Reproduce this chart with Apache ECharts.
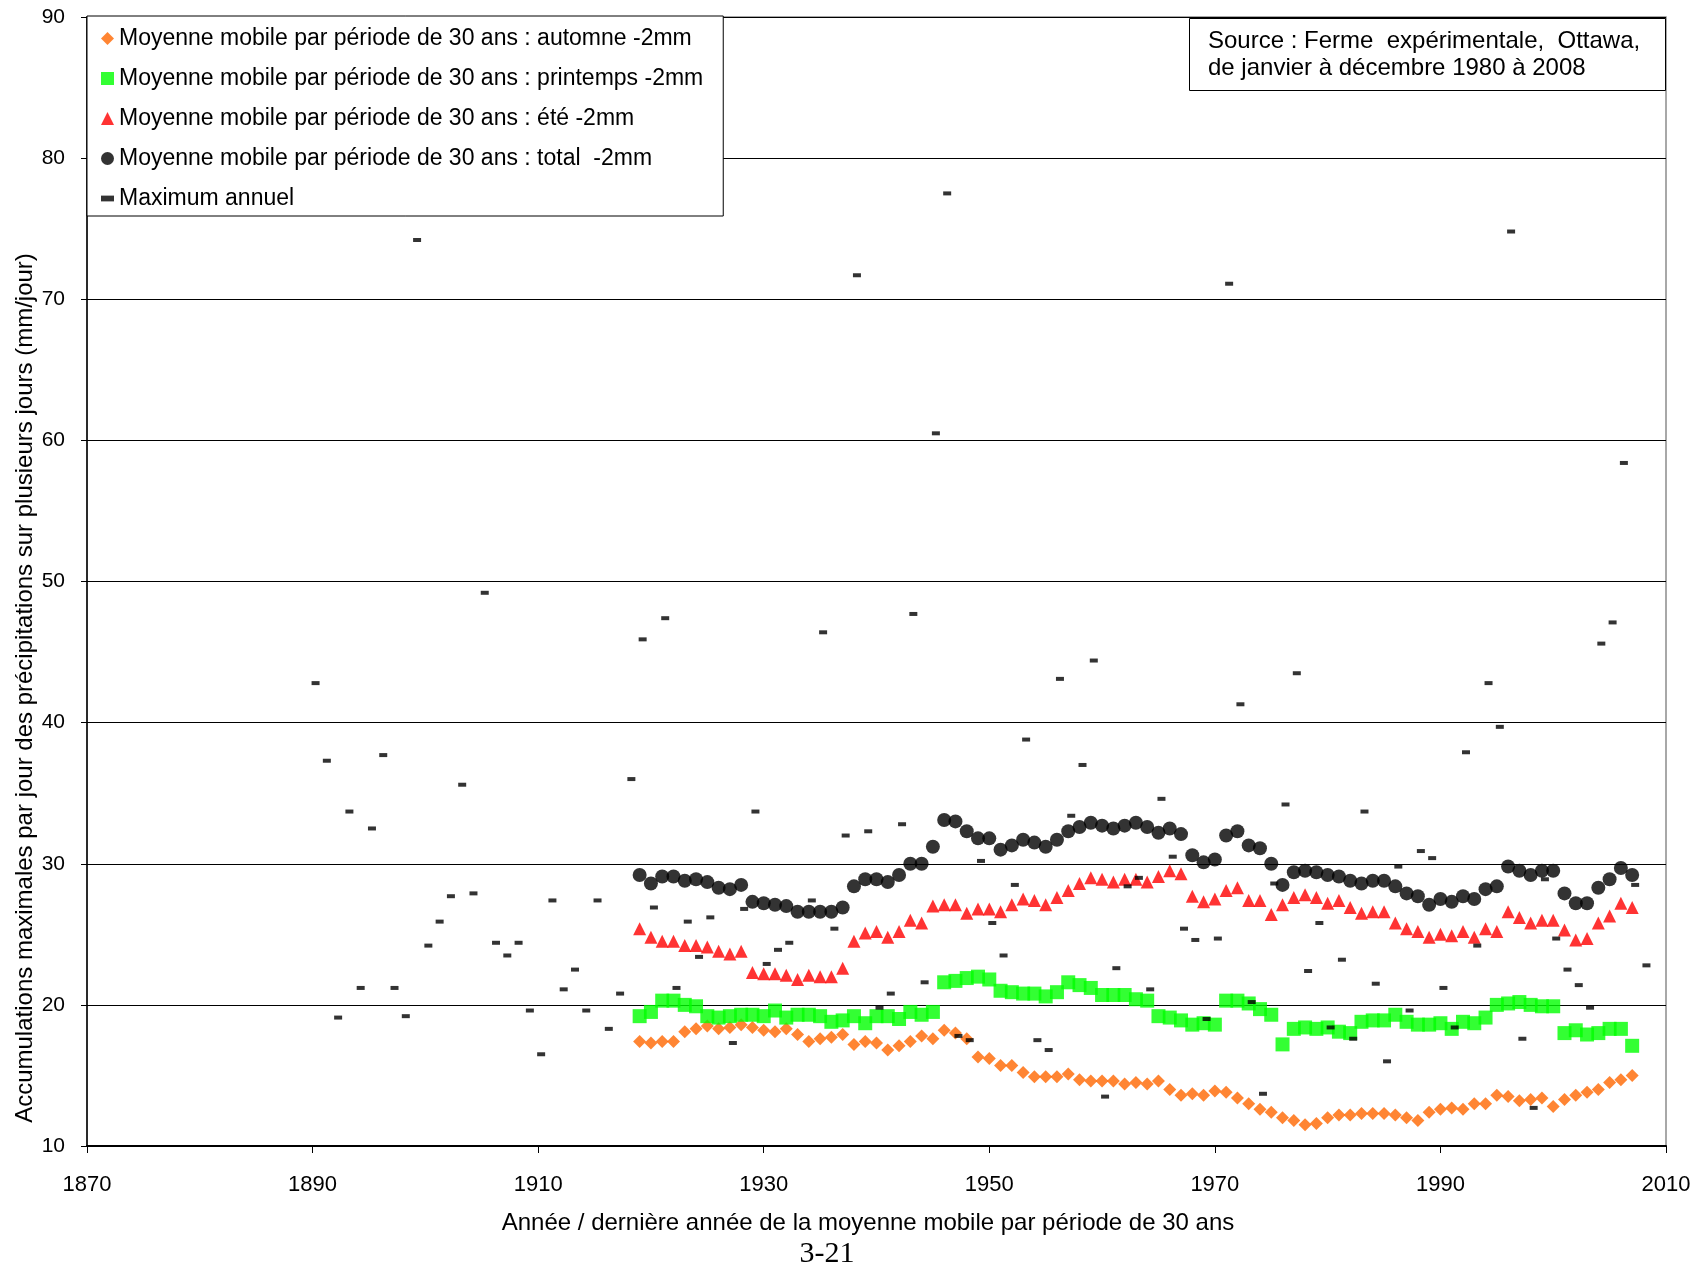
<!DOCTYPE html>
<html>
<head>
<meta charset="utf-8">
<script src="https://cdn.jsdelivr.net/npm/echarts@6/dist/echarts.min.js"></script>
<style>
  html, body { margin: 0; padding: 0; background: #fff; }
  #chart { width: 1701px; height: 1265px; }
</style>
</head>
<body>
<div id="chart"></div>
<script>
// Last year of each 30-year moving-average window
const maYears = [
  1919, 1920, 1921, 1922, 1923, 1924, 1925, 1926, 1927, 1928, 1929,
  1930, 1931, 1932, 1933, 1934, 1935, 1936, 1937, 1938, 1939,
  1940, 1941, 1942, 1943, 1944, 1945, 1946, 1947, 1948, 1949,
  1950, 1951, 1952, 1953, 1954, 1955, 1956, 1957, 1958, 1959,
  1960, 1961, 1962, 1963, 1964, 1965, 1966, 1967, 1968, 1969,
  1970, 1971, 1972, 1973, 1974, 1975, 1976, 1977, 1978, 1979,
  1980, 1981, 1982, 1983, 1984, 1985, 1986, 1987, 1988, 1989,
  1990, 1991, 1992, 1993, 1994, 1995, 1996, 1997, 1998, 1999,
  2000, 2001, 2002, 2003, 2004, 2005, 2006, 2007
];

// 30-year moving averages (mm/day), autumn
const autumn = [
  17.4, 17.3, 17.4, 17.4, 18.1, 18.3, 18.5, 18.3, 18.4, 18.6, 18.4,
  18.2, 18.1, 18.3, 17.9, 17.4, 17.6, 17.7, 17.9, 17.2, 17.4,
  17.3, 16.8, 17.1, 17.4, 17.8, 17.6, 18.2, 18.0, 17.6, 16.3,
  16.2, 15.7, 15.7, 15.2, 14.9, 14.9, 14.9, 15.1, 14.7, 14.6,
  14.6, 14.6, 14.4, 14.5, 14.4, 14.6, 14.0, 13.6, 13.7, 13.6,
  13.9, 13.8, 13.4, 13.0, 12.6, 12.4, 12.0, 11.8, 11.5, 11.6,
  12.0, 12.2, 12.2, 12.3, 12.3, 12.3, 12.2, 12.0, 11.8, 12.4,
  12.6, 12.7, 12.6, 13.0, 13.0, 13.6, 13.5, 13.2, 13.3, 13.4,
  12.8, 13.3, 13.6, 13.8, 14.0, 14.5, 14.7, 15.0
];

// 30-year moving averages (mm/day), spring
const spring = [
  19.2, 19.5, 20.3, 20.3, 20.0, 19.9, 19.2, 19.1, 19.2, 19.3, 19.3,
  19.2, 19.6, 19.1, 19.3, 19.3, 19.2, 18.8, 18.9, 19.2, 18.7,
  19.2, 19.2, 19.0, 19.5, 19.3, 19.5, 21.6, 21.7, 21.9, 22.0,
  21.8, 21.0, 20.9, 20.8, 20.8, 20.6, 20.9, 21.6, 21.4, 21.2,
  20.7, 20.7, 20.7, 20.4, 20.3, 19.2, 19.1, 18.9, 18.6, 18.7,
  18.6, 20.3, 20.3, 20.1, 19.7, 19.3, 17.2, 18.3, 18.4, 18.3,
  18.4, 18.1, 18.0, 18.8, 18.9, 18.9, 19.3, 18.8, 18.6, 18.6,
  18.7, 18.3, 18.8, 18.7, 19.1, 20.0, 20.1, 20.2, 20.0, 19.9,
  19.9, 18.0, 18.2, 17.9, 18.0, 18.3, 18.3, 17.1
];

// 30-year moving averages (mm/day), summer
const summer = [
  25.4, 24.8, 24.5, 24.5, 24.2, 24.2, 24.1, 23.8, 23.6, 23.8, 22.3,
  22.2, 22.2, 22.1, 21.8, 22.1, 22.0, 22.0, 22.6, 24.5, 25.1,
  25.2, 24.8, 25.2, 26.0, 25.8, 27.0, 27.1, 27.1, 26.5, 26.8,
  26.8, 26.6, 27.1, 27.5, 27.4, 27.1, 27.6, 28.1, 28.6, 29.0,
  28.9, 28.7, 28.9, 28.9, 28.7, 29.1, 29.5, 29.3, 27.7, 27.3,
  27.5, 28.1, 28.3, 27.4, 27.4, 26.4, 27.1, 27.6, 27.8, 27.6,
  27.2, 27.4, 26.9, 26.5, 26.6, 26.6, 25.8, 25.4, 25.2, 24.8,
  25.0, 24.9, 25.2, 24.8, 25.4, 25.2, 26.6, 26.2, 25.8, 26.0,
  26.0, 25.3, 24.6, 24.7, 25.8, 26.3, 27.2, 26.9
];

// 30-year moving averages (mm/day), whole year
const total = [
  29.2, 28.6, 29.1, 29.1, 28.8, 28.9, 28.7, 28.3, 28.2, 28.5, 27.3,
  27.2, 27.1, 27.0, 26.6, 26.6, 26.6, 26.6, 26.9, 28.4, 28.9,
  28.9, 28.7, 29.2, 30.0, 30.0, 31.2, 33.1, 33.0, 32.3, 31.8,
  31.8, 31.0, 31.3, 31.7, 31.5, 31.2, 31.7, 32.3, 32.6, 32.9,
  32.7, 32.5, 32.7, 32.9, 32.6, 32.2, 32.5, 32.1, 30.6, 30.1,
  30.3, 32.0, 32.3, 31.3, 31.1, 30.0, 28.5, 29.4, 29.5, 29.4,
  29.2, 29.1, 28.8, 28.6, 28.8, 28.8, 28.4, 27.9, 27.7, 27.1,
  27.5, 27.3, 27.7, 27.5, 28.2, 28.4, 29.8, 29.5, 29.2, 29.5,
  29.5, 27.9, 27.2, 27.2, 28.3, 28.9, 29.7, 29.2
];

// Annual maximum multi-day accumulation (mm/day)
const maxYears = [
  1890, 1891, 1892, 1893, 1894, 1895, 1896, 1897, 1898, 1899,
  1900, 1901, 1902, 1903, 1904, 1905, 1906, 1907, 1908, 1909,
  1910, 1911, 1912, 1913, 1914, 1915, 1916, 1917, 1918, 1919,
  1920, 1921, 1922, 1923, 1924, 1925, 1927, 1928, 1929,
  1930, 1931, 1932, 1934, 1935, 1936, 1937, 1938, 1939,
  1940, 1941, 1942, 1943, 1944, 1945, 1946, 1947, 1948, 1949,
  1950, 1951, 1952, 1953, 1954, 1955, 1956, 1957, 1958, 1959,
  1960, 1961, 1962, 1963, 1964, 1965, 1966, 1967, 1968, 1969,
  1970, 1971, 1972, 1973, 1974, 1975, 1976, 1977, 1978, 1979,
  1980, 1981, 1982, 1983, 1984, 1985, 1986, 1987, 1988, 1989,
  1990, 1991, 1992, 1993, 1994, 1995, 1996, 1997, 1998, 1999,
  2000, 2001, 2002, 2003, 2004, 2005, 2006, 2007, 2008
];
const maxValues = [
  42.8, 37.3, 19.1, 33.7, 21.2, 32.5, 37.7, 21.2, 19.2, 74.2,
  24.2, 25.9, 27.7, 35.6, 27.9, 49.2, 24.4, 23.5, 24.4, 19.6,
  16.5, 27.4, 21.1, 22.5, 19.6, 27.4, 18.3, 20.8, 36.0, 45.9,
  26.9, 47.4, 21.2, 25.9, 23.4, 26.2, 17.3, 26.8, 33.7,
  22.9, 23.9, 24.4, 27.4, 46.4, 25.4, 32.0, 71.7, 32.3,
  19.8, 20.8, 32.8, 47.7, 21.6, 60.5, 77.5, 17.8, 17.5, 30.2,
  25.8, 23.5, 28.5, 38.8, 17.5, 16.8, 43.1, 33.4, 37.0, 44.4,
  13.5, 22.6, 28.4, 29.0, 21.1, 34.6, 30.5, 25.4, 24.6, 19.0,
  24.7, 71.1, 41.3, 20.2, 13.7, 28.6, 34.2, 43.5, 22.4, 25.8,
  18.4, 23.2, 17.6, 33.7, 21.5, 16.0, 29.8, 19.6, 30.9, 30.4,
  21.2, 18.4, 37.9, 24.2, 42.8, 39.7, 74.8, 17.6, 12.7, 28.9,
  24.7, 22.5, 21.4, 19.8, 45.6, 47.1, 58.4, 28.5, 22.8
];

// Axis ranges
const xRange = { min: 1870, max: 2010, step: 20 };
const yRange = { min: 10, max: 90, step: 10 };

const seriesNames = [
  'Moyenne mobile par période de 30 ans : automne -2mm',
  'Moyenne mobile par période de 30 ans : printemps -2mm',
  'Moyenne mobile par période de 30 ans : été -2mm',
  'Moyenne mobile par période de 30 ans : total  -2mm',
  'Maximum annuel'
];

const FONT = "'Liberation Sans', Arial, sans-serif";
const pairs = (xs, ys) => xs.map((x, i) => [x, ys[i]]);

const chart = echarts.init(document.getElementById('chart'), null, { renderer: 'canvas' });

chart.setOption({
  animation: false,
  backgroundColor: '#ffffff',
  textStyle: { fontFamily: FONT, color: '#000' },
  title: {
    text: 'Source : Ferme  expérimentale,  Ottawa,\nde janvier à décembre 1980 à 2008',
    left: 1189,
    top: 18,
    padding: [10, 26, 9, 19],
    backgroundColor: '#ffffff',
    borderColor: '#000',
    borderWidth: 1,
    textStyle: { fontFamily: FONT, fontSize: 24, fontWeight: 'normal', lineHeight: 27, color: '#000' }
  },
  legend: {
    orient: 'vertical',
    left: 87,
    top: 16,
    padding: [11, 20, 6, 14],
    itemGap: 17,
    itemWidth: 13,
    itemHeight: 13,
    backgroundColor: '#ffffff',
    borderColor: '#000',
    borderWidth: 1,
    textStyle: { fontFamily: FONT, fontSize: 23, color: '#000' },
    data: [
      { name: seriesNames[0], icon: 'diamond' },
      { name: seriesNames[1], icon: 'rect' },
      { name: seriesNames[2], icon: 'triangle' },
      { name: seriesNames[3], icon: 'circle' },
      { name: seriesNames[4], icon: 'path://M0,0H9V4H0Z' }
    ]
  },
  grid: {
    left: 87, right: 35, top: 17, bottom: 119,
    show: true,
    borderColor: '#8c8c8c',
    borderWidth: 1.5,
    backgroundColor: 'transparent'
  },
  xAxis: {
    type: 'value',
    min: xRange.min, max: xRange.max, interval: xRange.step,
    name: 'Année / dernière année de la moyenne mobile par période de 30 ans',
    nameLocation: 'middle',
    nameGap: 65,
    nameTextStyle: { fontFamily: FONT, fontSize: 24, color: '#000', padding: [0, 17, 0, 0] },
    axisLine: { show: true, onZero: false, lineStyle: { color: '#000', width: 2 } },
    axisTick: { show: true, inside: false, length: 7, lineStyle: { color: '#000', width: 1 } },
    axisLabel: {
      margin: 28, fontFamily: FONT, fontSize: 22, color: '#000',
      formatter: (v) => String(v)
    },
    splitLine: { show: false }
  },
  yAxis: {
    type: 'value',
    min: yRange.min, max: yRange.max, interval: yRange.step,
    axisLine: { show: true, lineStyle: { color: '#000', width: 1.5 } },
    axisTick: { show: true, inside: false, length: 6, lineStyle: { color: '#000', width: 1 } },
    axisLabel: { margin: 22, fontFamily: FONT, fontSize: 21, color: '#000' },
    splitLine: { show: true, lineStyle: { color: '#000', width: 1.2 } }
  },
  graphic: [
    {
      type: 'text',
      x: 25, y: 688,
      rotation: Math.PI / 2,
      style: {
        text: 'Accumulations maximales par jour des précipitations sur plusieurs jours (mm/jour)',
        font: "24px 'Liberation Sans', Arial, sans-serif",
        fill: '#000',
        textAlign: 'center',
        textVerticalAlign: 'middle'
      }
    },
    {
      type: 'text',
      x: 827, y: 1254,
      style: {
        text: '3-21',
        font: "30px 'Liberation Serif', 'Times New Roman', serif",
        fill: '#000',
        textAlign: 'center',
        textVerticalAlign: 'middle'
      }
    }
  ],
  series: [
    {
      name: seriesNames[0], type: 'scatter',
      data: pairs(maYears, autumn),
      symbol: 'diamond', symbolSize: 13,
      itemStyle: { color: '#FF6600' }
    },
    {
      name: seriesNames[1], type: 'scatter',
      data: pairs(maYears, spring),
      symbol: 'rect', symbolSize: 14,
      itemStyle: { color: '#00FF00' }
    },
    {
      name: seriesNames[2], type: 'scatter',
      data: pairs(maYears, summer),
      symbol: 'triangle', symbolSize: 13,
      itemStyle: { color: '#FF0000' }
    },
    {
      name: seriesNames[3], type: 'scatter',
      data: pairs(maYears, total),
      symbol: 'circle', symbolSize: 14,
      itemStyle: { color: '#000000' }
    },
    {
      name: seriesNames[4], type: 'scatter',
      data: pairs(maxYears, maxValues),
      symbol: 'rect', symbolSize: [8, 4], symbolOffset: [3, 0],
      itemStyle: { color: '#000000' }
    }
  ]
});
</script>
</body>
</html>
